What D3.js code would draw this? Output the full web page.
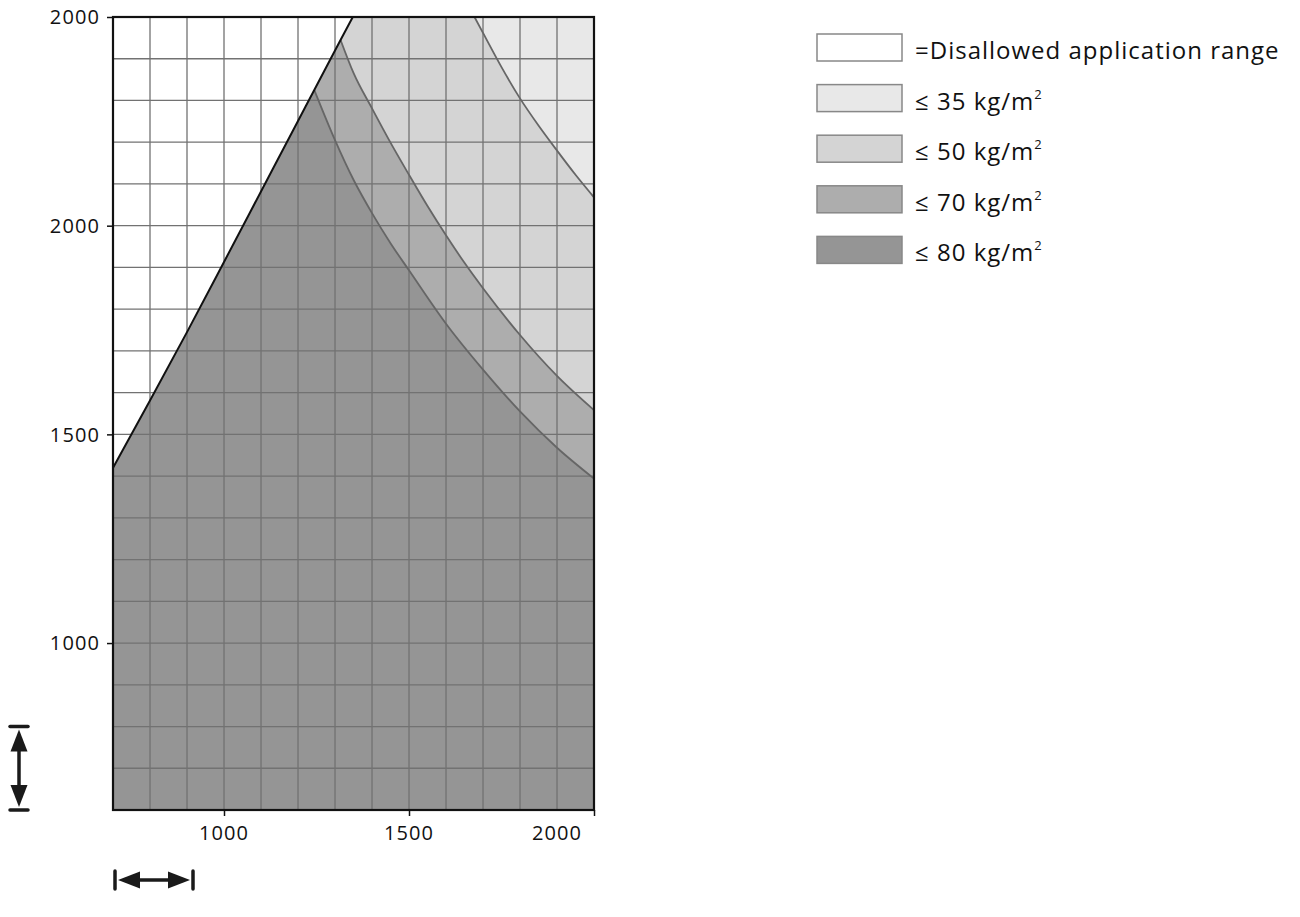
<!DOCTYPE html>
<html>
<head>
<meta charset="utf-8">
<script src="https://cdn.jsdelivr.net/npm/d3@7"></script>
<style>
  body { margin: 0; background: #fff; }
  svg { display: block; font-family: "Open Sans", Roboto, sans-serif; }
</style>
</head>
<body>
<div id="chart"></div>
<script>
// boundary of the allowed range (black line)
const boundaryX = [700, 800, 900, 1000, 1100, 1200, 1244, 1315, 1348];
const boundaryY = [1420, 1581, 1745, 1913, 2082, 2251, 2325, 2445, 2500];

// limit curves, each starts on the boundary (or on the top edge)
const c80X = [1244, 1300, 1350, 1400, 1450, 1500, 1600, 1700, 1800, 1900, 2000];
const c80Y = [2325, 2205, 2110, 2030, 1958, 1893, 1765, 1655, 1555, 1468, 1394];
const c70X = [1315, 1350, 1400, 1450, 1500, 1550, 1600, 1650, 1700, 1800, 1900, 2000];
const c70Y = [2445, 2366, 2281, 2199, 2122, 2047, 1977, 1911, 1850, 1738, 1640, 1558];
const c35X = [1677, 1700, 1750, 1800, 1850, 1900, 1950, 2000];
const c35Y = [2500, 2462, 2380, 2305, 2240, 2180, 2122, 2068];

const xTickValues = [1000, 1500, 2000];
const xLabelAt = [1000, 1500, 1900];
const xLabels = ["1000", "1500", "2000"];
const yTickValues = [2500, 2000, 1500, 1000];
const yLabels = ["2000", "2000", "1500", "1000"];

const legendLabels = ["=Disallowed application range", "≤ 35 kg/m", "≤ 50 kg/m", "≤ 70 kg/m", "≤ 80 kg/m"];
const legendSup = ["", "2", "2", "2", "2"];
const legendColors = ["#ffffff", "#e8e8e8", "#d4d4d4", "#adadad", "#959595"];

const width = 1300, height = 917;
const margin = {left: 113, top: 17, right: 706, bottom: 107};

const x = d3.scaleLinear().domain([700, 2000]).range([margin.left, width - margin.right]);
const y = d3.scaleLinear().domain([600, 2500]).range([height - margin.bottom, margin.top]);

const zip = (xs, ys) => xs.map((v, i) => [v, ys[i]]);
const boundary = zip(boundaryX, boundaryY);
const c80 = zip(c80X, c80Y);
const c70 = zip(c70X, c70Y);
const c35 = zip(c35X, c35Y);

const line = d3.line().x(d => x(d[0])).y(d => y(d[1])).curve(d3.curveMonotoneX);

// region = boundary up to the peak, then the curve, closed at the bottom
function region(curve) {
    const peak = curve[0][0];
    let b = boundary.filter(d => d[0] <= peak);
    let p = line(b);
    p += line(curve).replace(/^M/, "L");
    p += "L" + x(2000) + "," + y(600) + "L" + x(700) + "," + y(600) + "Z";
    return p;
}

const svg = d3.select("#chart").append("svg")
    .attr("width", width)
    .attr("height", height);

// allowed range (lightest)
svg.append("path")
    .attr("fill", legendColors[1])
    .attr("d", line(boundary) + "L" + x(2000) + "," + y(2500) + "L" + x(2000) + "," + y(600) + "L" + x(700) + "," + y(600) + "Z");

svg.append("path").attr("fill", legendColors[2]).attr("d", region(c35));
svg.append("path").attr("fill", legendColors[3]).attr("d", region(c70));
svg.append("path").attr("fill", legendColors[4]).attr("d", region(c80));

// grid
svg.append("g")
    .attr("stroke", "#727272")
    .attr("stroke-width", 1.3)
    .selectAll("line")
    .data(d3.range(800, 2000, 100))
    .join("line")
    .attr("x1", d => x(d)).attr("x2", d => x(d))
    .attr("y1", y(600)).attr("y2", y(2500));
svg.append("g")
    .attr("stroke", "#727272")
    .attr("stroke-width", 1.3)
    .selectAll("line")
    .data(d3.range(700, 2500, 100))
    .join("line")
    .attr("x1", x(700)).attr("x2", x(2000))
    .attr("y1", d => y(d)).attr("y2", d => y(d));

// limit curves
[c35, c70, c80].forEach(c => {
    svg.append("path")
        .attr("fill", "none")
        .attr("stroke", "#666")
        .attr("stroke-width", 1.8)
        .attr("d", line(c));
});
svg.append("path")
    .attr("fill", "none")
    .attr("stroke", "#111")
    .attr("stroke-width", 2)
    .attr("d", line(boundary));

// frame
svg.append("rect")
    .attr("x", x(700)).attr("y", y(2500))
    .attr("width", x(2000) - x(700)).attr("height", y(600) - y(2500))
    .attr("fill", "none").attr("stroke", "#111").attr("stroke-width", 2.2);

// axes
const xAxis = svg.append("g")
    .attr("transform", "translate(0," + y(600) + ")")
    .call(d3.axisBottom(x).tickValues(xTickValues).tickFormat("").tickSize(6).tickSizeOuter(0));
xAxis.select(".domain").remove();
xAxis.selectAll("line").attr("stroke", "#111").attr("stroke-width", 1.5);

const yAxis = svg.append("g")
    .attr("transform", "translate(" + x(700) + ",0)")
    .call(d3.axisLeft(y).tickValues(yTickValues).tickFormat("").tickSize(6).tickSizeOuter(0));
yAxis.select(".domain").remove();
yAxis.selectAll("line").attr("stroke", "#111").attr("stroke-width", 1.5);

svg.append("g")
    .selectAll("text")
    .data(xLabels)
    .join("text")
    .attr("x", (d, i) => x(xLabelAt[i]))
    .attr("y", y(600) + 30)
    .attr("text-anchor", "middle")
    .attr("font-size", 20)
    .attr("letter-spacing", 1.1)
    .attr("fill", "#111")
    .text(d => d);

svg.append("g")
    .selectAll("text")
    .data(yLabels)
    .join("text")
    .attr("x", x(700) - 13)
    .attr("y", (d, i) => y(yTickValues[i]))
    .attr("dy", "0.36em")
    .attr("text-anchor", "end")
    .attr("font-size", 20)
    .attr("letter-spacing", 1.1)
    .attr("fill", "#111")
    .text(d => d);

// scale arrows
function arrow(g, x1, y1, x2, y2) {
    const ang = Math.atan2(y2 - y1, x2 - x1);
    const len = Math.hypot(x2 - x1, y2 - y1);
    const a = g.append("g")
        .attr("transform", "translate(" + x1 + "," + y1 + ") rotate(" + (ang * 180 / Math.PI) + ")")
        .attr("fill", "#1a1a1a").attr("stroke", "#1a1a1a");
    a.append("line").attr("x1", 0).attr("x2", 0).attr("y1", -9).attr("y2", 9).attr("stroke-width", 3.5).attr("stroke-linecap", "round");
    a.append("line").attr("x1", len).attr("x2", len).attr("y1", -9).attr("y2", 9).attr("stroke-width", 3.5).attr("stroke-linecap", "round");
    a.append("line").attr("x1", 10).attr("x2", len - 10).attr("y1", 0).attr("y2", 0).attr("stroke-width", 3.5);
    a.append("path").attr("stroke", "none").attr("d", "M3,0L25,-8.5L25,8.5Z");
    a.append("path").attr("stroke", "none").attr("d", "M" + (len - 3) + ",0L" + (len - 25) + ",-8.5L" + (len - 25) + ",8.5Z");
}
arrow(svg, 19, y(800), 19, y(600));
arrow(svg, x(700) + 2, 880, x(700) + 80, 880);

// legend
const legend = svg.append("g")
    .attr("transform", "translate(817,34)")
    .selectAll("g")
    .data(legendLabels)
    .join("g")
    .attr("transform", (d, i) => "translate(0," + (i * 50.6) + ")");
legend.append("rect")
    .attr("width", 85).attr("height", 27)
    .attr("fill", (d, i) => legendColors[i])
    .attr("stroke", "#888").attr("stroke-width", 1.5);
const lt = legend.append("text")
    .attr("x", 98)
    .attr("y", 25)
    .attr("font-size", 24)
    .attr("letter-spacing", 1.0)
    .attr("fill", "#111")
    .text(d => d);
lt.append("tspan")
    .attr("font-size", 13)
    .attr("dy", -11)
    .text((d, i) => legendSup[i]);
</script>
</body>
</html>
